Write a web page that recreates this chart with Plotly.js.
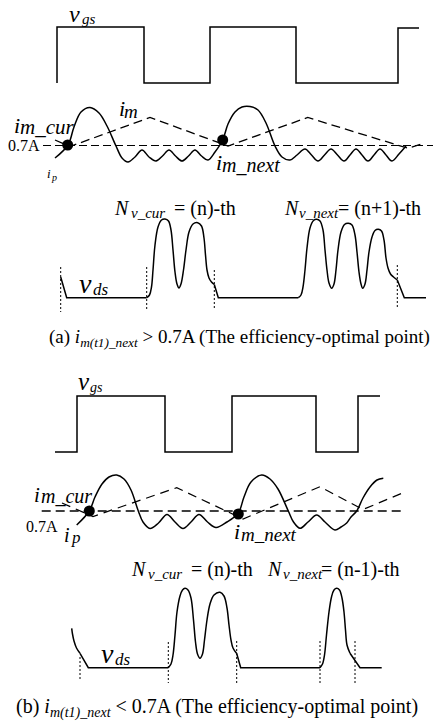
<!DOCTYPE html>
<html><head><meta charset="utf-8">
<script src="https://cdn.plot.ly/plotly-3.0.1.min.js"></script>
<style>html,body{margin:0;padding:0;background:#fff;}#chart{width:438px;height:727px;}</style>
</head><body><div id="chart"></div>
<script>
// ===== waveform data (drawing units: t = time, value axis points downward) =====
// (a) gate voltage
const vgsA_t = [57,57,144,144,210,210,296,296,398,398,419];
const vgsA_v = [83,27,27,83,83,27,27,83,83,28,28];
// (b) gate voltage
const vgsB_t = [55,77,77,165,165,232,232,316,316,358,358,380];
const vgsB_v = [452,452,396,396,452,452,396,396,452,452,396,396];

// (a) primary current (solid)
const curA_t = [55,68,74,81,90,99,107,116,122,128,135,142,149,156,162.5,169,175.5,182,188.5,195,201.5,208,215,222.7,228,235,242,250,258,266,275,282,290,297,305,311.5,318,324.5,331,337.5,344,350,356,362,368,374,380,386,392,399,406];
const curA_i = [158,145,127,112,107.5,113,126,146,158,162,157,150,157,161,156,150,156,161,156,150,156,160,152,140,124,112,107,106.5,110,123,146,157,160,155,149,155,161,155,149,155,161,155,149,155,161,155,149,155,161,154,146];
// (a) magnetizing current (dashed triangle)
const imA_t = [55,70,150,228,307.7,408,423.3];
const imA_i = [140,146.5,117.5,146,117.5,148.3,143.3];
// (a) 0.7A reference
const refA_t = [43,433];
const refA_i = [145.5,145.5];
// (a) sampling points i_m_cur / i_m_next
const ptA_t = [67.7,222.7];
const ptA_i = [145,140];

// (b) primary current (solid)
const curB_t = [76.7,89.3,95,102,109,116.7,124,131,138.3,143,150,158.5,167,175,183,191,199,207.5,216,227,238.3,244,251,261.7,270,278,288.3,293.5,300,308,316.7,325,335,341,346.7,351,356.7,363,370,377,383.3];
const curB_i = [525,511,497,484,477,475,479,490,511,522,528.5,523,514.5,522,528.5,522,514.5,522,527.5,522,513,497,482,475,479,489,511,522,528.3,522,515,522,530,527,523,517,511,498,487,480,478.3];
const imB_t = [62,93,176.7,243,320,363,401.7];
const imB_i = [503,516.5,487.7,519,486.7,509.5,493.3];
const refB_t = [41.7,405];
const refB_i = [511,511];
const ptB_t = [89.3,238.3];
const ptB_i = [511,514];

// (a) drain-source voltage: straight parts and ringing parts
const vdsA_lin_t = [60.7,66.7,146.7,null,214.3,218.3,298.3,null,397.3,404.3,426];
const vdsA_lin_v = [277,297.7,297.7,null,284.5,297.7,297.7,null,280,297.7,297.7];
const vdsA_ring_t = [146.7,149.5,151.5,153,155,158,161.5,165,168.5,171,173,175,177,179,181,183.5,186,189,193,197.7,201.5,204,205.5,207,209,211.5,214.3,null,
  298.3,301,303,305,307,310,313.5,316.7,320,323,325,327,329,331.7,334,336,338,341,344.5,348.3,352,355,357,359,361,362.7,365,367,369,372,375,378.3,381.5,384,386,388,390.5,393.5,397.3];
const vdsA_ring_v = [297.7,295,287,270,245,227,220,219,221,230,250,272,284,288,284,270,250,232,224,222.7,226,238,255,270,278,282,284.5,null,
  297.7,295,287,270,248,228,220.5,219.3,221,230,250,270,283,288.3,284,270,250,232,224.5,223.3,225,235,252,272,284,288.3,284,270,252,237,230.5,229.3,231,240,258,268,274,277,280];
const edgeA_t = [60.7,60.7,null,146.7,146.7,null,214.3,214.3,null,397.3,397.3];
const edgeA_v = [267,312,null,267,309,null,270,310,null,265,308];

// (b) drain-source voltage
const vdsB_lin_t = [80,88.3,168.3,null,236.7,240.7,320,null,350,360,381.7];
const vdsB_lin_v = [653.3,667.7,667.7,null,653.5,667.7,667.7,null,653.3,667.7,667.7];
const vdsB_ring_t = [71.7,72.5,74,76.5,80,null,
  168.3,171,173,175,177,180,182.5,185,188,191,193.5,195.5,197.5,200,202.5,204.5,207,210,214,220,224,227,229,231,233,236.7,null,
  320,322.5,324.5,326.5,329,331.5,334,336.7,339.5,342,344,345.5,347,350];
const vdsB_ring_v = [628.3,634,641,648,653.3,null,
  667.7,664,655,635,612,596,590,588.3,590,598,620,642,654,658.3,654,640,620,604,595,592.3,596,608,625,640,648,653.5,null,
  667.7,664,655,635,612,597,590,588.3,590,598,612,630,645,653.3];
const edgeB_t = [80,80,null,168.3,168.3,null,236.7,236.7,null,320,320,null,355,355];
const edgeB_v = [657,680,null,642,683,null,641,683,null,641,683,null,641,683];

// ===== text =====
const captionA = '(a) <i>i<sub>m(t1)_next</sub></i> &gt; 0.7A (The efficiency-optimal point)';
const captionB = '(b) <i>i<sub>m(t1)_next</sub></i> &lt; 0.7A (The efficiency-optimal point)';

const FONT = 'Liberation Serif';
const K = '#000';

function line(x, y, opt) {
  return Object.assign({type:'scatter', mode:'lines', x:x, y:y, hoverinfo:'skip', connectgaps:false,
    line:Object.assign({color:K, width:1.4, shape:'linear'}, opt||{})});
}
function pts(x, y) {
  return {type:'scatter', mode:'markers', x:x, y:y, hoverinfo:'skip', marker:{color:K, size:11}};
}

const traces = [
  line(vgsA_t, vgsA_v, {width:1.5}),
  line(vgsB_t, vgsB_v, {width:1.5}),
  line(refA_t, refA_i, {width:1.2, dash:'8px,4px'}),
  line(refB_t, refB_i, {width:1.4, dash:'9px,5px'}),
  line(imA_t, imA_i, {width:1.3, dash:'9px,5px'}),
  line(imB_t, imB_i, {width:1.2, dash:'9px,6px'}),
  line(curA_t, curA_i, {width:1.5, shape:'spline', smoothing:1}),
  line(curB_t, curB_i, {width:1.5, shape:'spline', smoothing:1}),
  pts(ptA_t, ptA_i),
  pts(ptB_t, ptB_i),
  line(vdsA_lin_t, vdsA_lin_v, {width:1.5}),
  line(vdsA_ring_t, vdsA_ring_v, {width:1.5, shape:'spline', smoothing:1}),
  line(edgeA_t, edgeA_v, {width:1, dash:'2px,2px'}),
  line(vdsB_lin_t, vdsB_lin_v, {width:1.5}),
  line(vdsB_ring_t, vdsB_ring_v, {width:1.5, shape:'spline', smoothing:1}),
  line(edgeB_t, edgeB_v, {width:1, dash:'2px,2px'})
];

function T(txt, x, base, size, italic, anchor) {
  return {text: italic ? '<i>' + txt + '</i>' : txt, x:x, y: base - 0.34*size, xref:'x', yref:'y',
    xanchor: anchor || 'left', yanchor:'middle', showarrow:false, borderpad:0,
    font:{family:FONT, size:size, color:K}};
}

const ann = [
  // (a)
  T('v', 68, 22, 24, true), T('gs', 81, 24, 15, true),
  T('i', 12.5, 133, 22, true), T('m_cur', 18.5, 134.5, 21, true),
  T('0.7A', 7, 151, 16, false),
  T('i', 45.5, 178, 13, true), T('p', 49.5, 180.5, 10, true),
  T('i', 117.5, 115.5, 22, true), T('m', 123, 117.5, 19, true),
  T('i', 214.5, 170, 22, true), T('m_next', 220.5, 172, 20, true),
  T('N', 113, 215, 20, true), T('v_cur', 130, 218.5, 15, true), T('= (n)-th', 173, 215, 20, false),
  T('N', 283, 215, 20, true), T('v_next', 298, 218.5, 15, true), T('= (n+1)-th', 336.5, 215, 20, false),
  T('v', 77.5, 293.3, 28, true), T('ds', 91.5, 295, 17, true),
  T(captionA, 239, 344, 19, false, 'center'),
  // (b)
  T('v', 76.5, 390, 25, true), T('gs', 88.5, 392, 14, true),
  T('i', 33, 501.7, 21, true), T('m_cur', 40, 502.5, 20, true),
  T('0.7A', 25, 531.7, 16, false),
  T('i', 63, 541.7, 20, true), T('p', 69.5, 543, 17, true),
  T('i', 233, 539, 22, true), T('m_next', 240, 541, 19, true),
  T('N', 130, 576, 20, true), T('v_cur', 147, 579.5, 15, true), T('= (n)-th', 190, 576, 20, false),
  T('N', 266, 576, 20, true), T('v_next', 282, 579.5, 15, true), T('= (n-1)-th', 320, 576, 20, false),
  T('v', 100, 663.3, 28, true), T('ds', 113.5, 665, 17, true),
  T(captionB, 216.5, 715, 20, false, 'center')
];

const layout = {
  width:438, height:727, margin:{l:0, r:0, t:0, b:0},
  paper_bgcolor:'#fff', plot_bgcolor:'#fff', showlegend:false, hovermode:false,
  xaxis:{range:[0,438], visible:false, fixedrange:true},
  yaxis:{range:[727,0], visible:false, fixedrange:true},
  annotations: ann
};
Plotly.newPlot('chart', traces, layout, {staticPlot:true, displayModeBar:false});
</script>
</body></html>
